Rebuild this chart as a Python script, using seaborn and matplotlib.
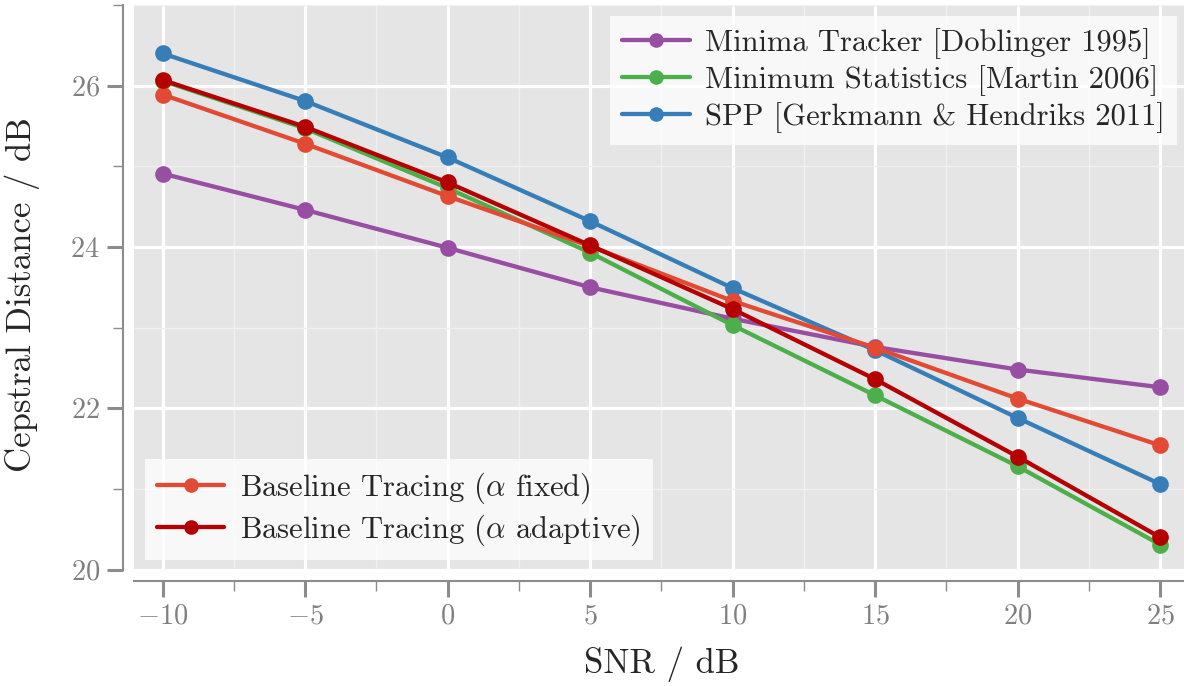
import numpy as np
import pandas as pd
import matplotlib
matplotlib.use("Agg")
import matplotlib.pyplot as plt
import seaborn as sns
from matplotlib.ticker import MultipleLocator
from matplotlib.lines import Line2D

snr = [-10, -5, 0, 5, 10, 15, 20, 25]
minima_tracker = [24.91, 24.46, 23.99, 23.50, 23.11, 22.76, 22.48, 22.26]
minimum_statistics = [26.06, 25.47, 24.73, 23.93, 23.03, 22.16, 21.28, 20.31]
spp = [26.40, 25.81, 25.11, 24.32, 23.49, 22.72, 21.88, 21.06]
baseline_fixed = [25.89, 25.28, 24.63, 24.01, 23.33, 22.75, 22.12, 21.54]
baseline_adaptive = [26.07, 25.49, 24.80, 24.02, 23.23, 22.36, 21.40, 20.40]

labels = [
    "Minima Tracker [Doblinger 1995]",
    "Minimum Statistics [Martin 2006]",
    "SPP [Gerkmann & Hendriks 2011]",
    r"Baseline Tracing ($\alpha$ fixed)",
    r"Baseline Tracing ($\alpha$ adaptive)",
]
series = [minima_tracker, minimum_statistics, spp, baseline_fixed, baseline_adaptive]
colors = ["#984ea3", "#4daf4a", "#377eb8", "#e24a33", "#b40000"]

rows = []
for lab, vals in zip(labels, series):
    for x, y in zip(snr, vals):
        rows.append({"SNR": x, "CD": y, "method": lab})
df = pd.DataFrame(rows)

sns.set_style("darkgrid", {"axes.facecolor": "#e5e5e5", "grid.color": "white"})
plt.rcParams["font.family"] = ["cmr10", "DejaVu Serif"]
plt.rcParams["mathtext.fontset"] = "cm"
plt.rcParams["axes.formatter.use_mathtext"] = True
plt.rcParams["axes.unicode_minus"] = True

fig = plt.figure(figsize=(11.84, 6.86), dpi=100)
ax = fig.add_axes([134 / 1184, 1 - 569.5 / 686, 1054.5 / 1184, 564.5 / 686])

sns.lineplot(data=df, x="SNR", y="CD", hue="method", hue_order=labels,
             palette=dict(zip(labels, colors)), marker="o", markersize=12,
             markeredgewidth=0, linewidth=3.1, ax=ax, legend=False, zorder=3)

ax.set_xlim(-11, 26)
ax.set_ylim(20, 27)
ax.xaxis.set_major_locator(MultipleLocator(5))
ax.xaxis.set_minor_locator(MultipleLocator(2.5))
ax.yaxis.set_major_locator(MultipleLocator(2))
ax.yaxis.set_minor_locator(MultipleLocator(1))
ax.grid(which="major", color="white", linewidth=2.3)
ax.grid(which="minor", color="#f0f0f0", linewidth=1.0)
ax.set_axisbelow(True)

for s in ["top", "right"]:
    ax.spines[s].set_visible(False)
for s in ["left", "bottom"]:
    ax.spines[s].set_visible(True)
    ax.spines[s].set_color("#8c8c8c")
    ax.spines[s].set_linewidth(1.5)
    ax.spines[s].set_position(("outward", 8))

ax.tick_params(which="major", direction="out", length=11.5, width=2.2,
               color="#8c8c8c", labelcolor="#808080", labelsize=20.5, pad=5,
               bottom=True, left=True)
ax.tick_params(which="minor", direction="out", length=7.5, width=1.0,
               color="#8c8c8c", bottom=True, left=True)

ax.set_xlabel("SNR / dB", fontsize=25, labelpad=12)
ax.set_ylabel("Cepstral Distance / dB", fontsize=25)
ax.yaxis.set_label_coords((40 - 134) / 1054.5, (569.5 - 295) / 564.5)


def mk(c):
    return Line2D([], [], color=c, linewidth=3.1, marker="o", markersize=10.5,
                  markeredgewidth=0)


leg_kw = dict(fontsize=22, frameon=True, fancybox=False, framealpha=0.75,
              facecolor="white", edgecolor="none", handlelength=2.2,
              labelspacing=0.2, borderpad=0.4, handletextpad=0.5)
leg1 = ax.legend([mk(c) for c in colors[:3]], labels[:3], loc="upper right",
                 bbox_to_anchor=((1177 - 134) / 1054.5, 1 - 11 / 564.5),
                 borderaxespad=0, **leg_kw)
ax.add_artist(leg1)
leg2 = ax.legend([mk(c) for c in colors[3:]], labels[3:], loc="lower left",
                 bbox_to_anchor=(11 / 1054.5, 9.5 / 564.5), borderaxespad=0, **leg_kw)

fig.savefig("out.png", dpi=100)
